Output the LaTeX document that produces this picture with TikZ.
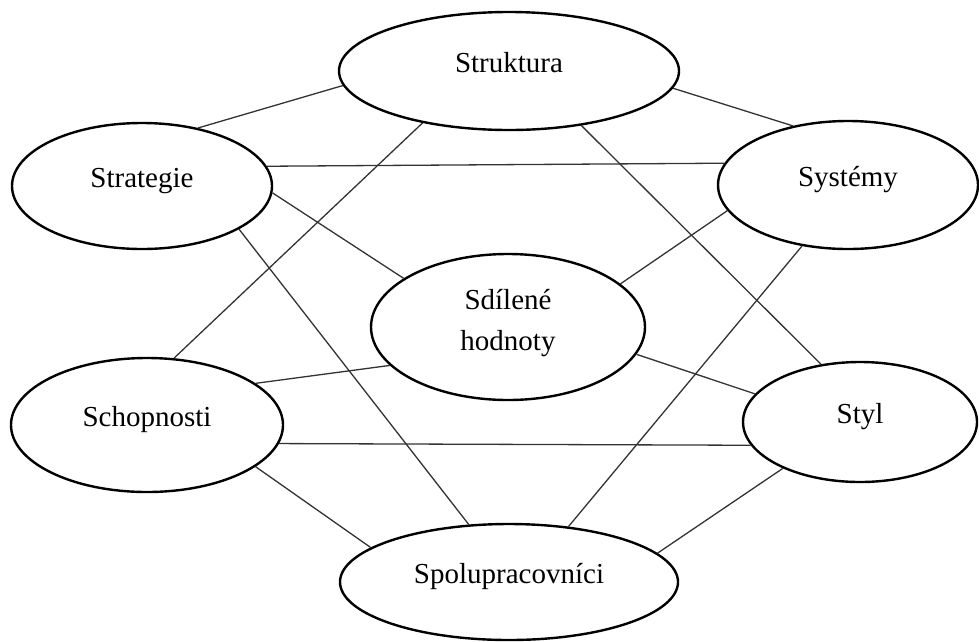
\documentclass[tikz,border=0pt]{standalone}
\usepackage{fontspec}
\setmainfont{Liberation Serif}
\usetikzlibrary{shapes.geometric}
\tikzset{
  sbox/.style={ellipse, draw=black, line width=2.4pt, fill=white, inner sep=0pt,
    font=\fontsize{29}{37}\selectfont, text height=20pt, text depth=17.4pt},
  conn/.style={draw=black!80, line width=1.3pt}
}
\begin{document}
\begin{tikzpicture}[x=1pt,y=-1pt]
\useasboundingbox (0,0) rectangle (979,641);
\node[sbox, minimum width=340pt, minimum height=118pt] (SK) at (509,71) {Struktura};
\node[sbox, minimum width=260pt, minimum height=126pt] (SG) at (142,186) {Strategie};
\node[sbox, minimum width=260pt, minimum height=128pt] (SY) at (848,185) {Systémy};
\node[sbox, minimum width=274pt, minimum height=146pt, align=center, text height=57pt, text depth=11pt] (SH) at (508,327) {Sdílené\\[4pt]hodnoty};
\node[sbox, minimum width=272pt, minimum height=134pt] (SC) at (147,425) {Schopnosti};
\node[sbox, minimum width=234pt, minimum height=120pt] (ST) at (860,422) {Styl};
\node[sbox, minimum width=338pt, minimum height=116pt] (SP) at (509,582) {Spolupracovníci};
\draw[conn] (SG.46) -- (SK.185);
\draw[conn] (SK.354) -- (SY.133);
\draw[conn] (SG.9.5) -- (SY.170);
\draw[conn] (SG.-3) -- (SH.155);
\draw[conn] (SG.-24) -- (SP.125.7);
\draw[conn] (SK.211.6) -- (SC.68.8);
\draw[conn] (SK.-37) -- (ST.124.1);
\draw[conn] (SY.192.6) -- (SH.21.5);
\draw[conn] (SY.233.9) -- (SP.43);
\draw[conn] (SH.198.4) -- (SC.21.7);
\draw[conn] (SH.-12.2) -- (ST.165.4);
\draw[conn] (SC.-8.3) -- (ST.192.8);
\draw[conn] (SC.-21.8) -- (SP.166.8);
\draw[conn] (ST.211) -- (SP.11.8);
\end{tikzpicture}
\end{document}
